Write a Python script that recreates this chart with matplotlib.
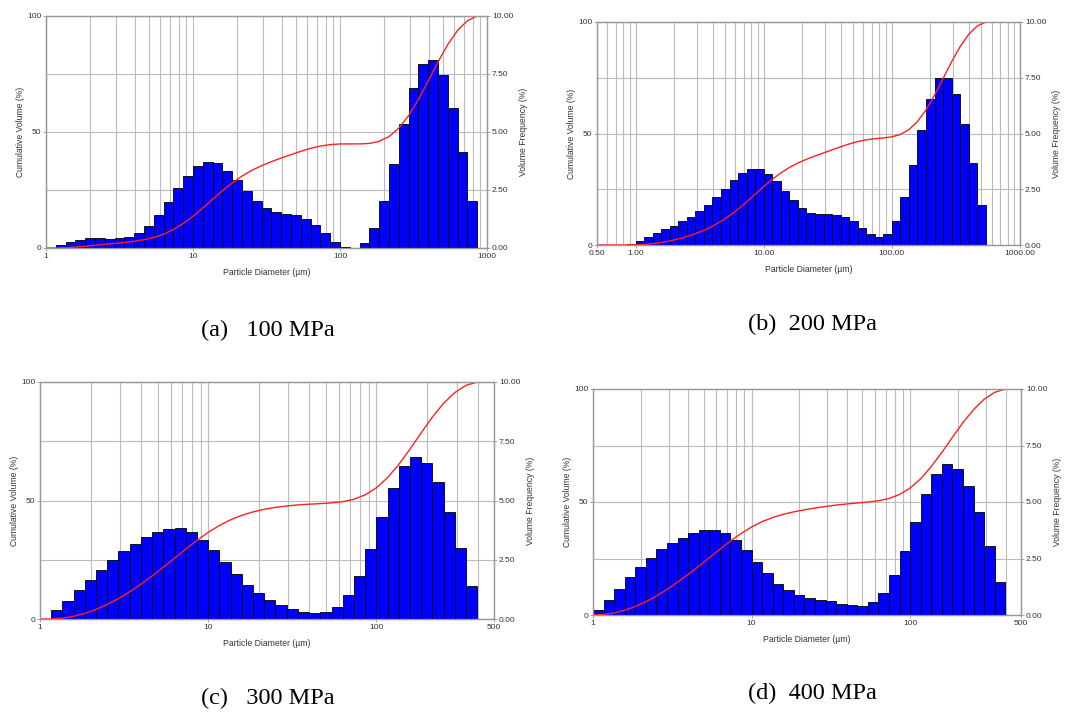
import numpy as np
import matplotlib.pyplot as plt
from matplotlib.ticker import LogLocator, NullFormatter

plt.rcParams['font.family'] = 'Liberation Sans'

# particle size classes, 15 per decade (class k spans 10^(k/15) .. 10^((k+1)/15))
size_classes = 10 ** (np.arange(-1, 46) / 15)

# volume frequency (%), first class index k0
freq_100 = [0.11, 0.27, 0.36, 0.42, 0.42, 0.39, 0.42, 0.47, 0.66, 0.96,
            1.41, 1.97, 2.57, 3.11, 3.54, 3.72, 3.67, 3.34, 2.93, 2.44,
            2.01, 1.71, 1.55, 1.46, 1.41, 1.26, 0.98, 0.63, 0.27, 0.03,
            0.00, 0.20, 0.88, 2.04, 3.62, 5.34, 6.89, 7.92, 8.11, 7.47,
            6.05, 4.13, 2.01]
k0_100 = 1

freq_200 = [0.04, 0.19, 0.36, 0.52, 0.70, 0.87, 1.08, 1.27, 1.52, 1.81,
            2.17, 2.53, 2.91, 3.24, 3.41, 3.41, 3.20, 2.86, 2.44, 2.00,
            1.66, 1.45, 1.38, 1.38, 1.35, 1.26, 1.08, 0.78, 0.49, 0.36,
            0.48, 1.08, 2.14, 3.60, 5.17, 6.56, 7.47, 7.47, 6.77, 5.44,
            3.69, 1.78]
k0_200 = -1

freq_300 = [0.37, 0.77, 1.21, 1.65, 2.08, 2.48, 2.86, 3.18, 3.46, 3.66,
            3.78, 3.83, 3.66, 3.35, 2.90, 2.39, 1.88, 1.43, 1.08, 0.82,
            0.58, 0.44, 0.31, 0.24, 0.30, 0.52, 1.01, 1.83, 2.97, 4.29,
            5.53, 6.46, 6.84, 6.60, 5.78, 4.50, 3.00, 1.39]
k0_300 = 1

freq_400 = [0.24, 0.66, 1.17, 1.67, 2.11, 2.53, 2.90, 3.18, 3.41, 3.62,
            3.74, 3.74, 3.62, 3.31, 2.88, 2.36, 1.85, 1.39, 1.09, 0.90,
            0.77, 0.68, 0.61, 0.50, 0.44, 0.41, 0.56, 0.99, 1.76, 2.85,
            4.12, 5.35, 6.25, 6.68, 6.47, 5.72, 4.55, 3.06, 1.46]
k0_400 = 0

ticks_a = [1, 10, 100, 1000]
labels_a = ['1', '10', '100', '1000']
ticks_b = [0.5, 1, 10, 100, 1000]
labels_b = ['0.50', '1.00', '10.00', '100.00', '1000.00']
ticks_cd = [1, 10, 100, 500]
labels_cd = ['1', '10', '100', '500']
captions = ['(a)   100 MPa', '(b)  200 MPa', '(c)   300 MPa', '(d)  400 MPa']

W, H = 1067, 713
fig = plt.figure(figsize=(W / 100, H / 100), dpi=100)


def px_rect(left, top, right, bottom):
    return [left / W, 1 - bottom / H, (right - left) / W, (bottom - top) / H]


def draw(rect, freq, k0, xlim, xticks, xlabels):
    ax = fig.add_axes(rect)
    ax2 = ax.twinx()
    ax.set_xscale('log')
    edges = size_classes[k0 + 1:k0 + len(freq) + 2]

    # bars on the twin (frequency) axis so they sit above the grid
    ax2.bar(edges[:-1], freq, width=np.diff(edges), align='edge',
            color='#0000ff', edgecolor='black', linewidth=0.6)

    # cumulative volume from the frequencies
    cum = np.concatenate([[0], np.cumsum(freq)])
    cum = cum / cum[-1] * 100
    ax2.plot(np.concatenate([[xlim[0]], edges]), np.concatenate([[0], cum]),
             color='#ff2020', lw=1.0, transform=ax.transData)

    ax.set_xlim(*xlim)
    ax.set_ylim(0, 100)
    ax2.set_ylim(0, 10)

    ax.set_xticks(xticks)
    ax.set_xticklabels(xlabels)
    ax.xaxis.set_minor_locator(LogLocator(base=10, subs=np.arange(2, 10), numticks=20))
    ax.xaxis.set_minor_formatter(NullFormatter())
    ax.set_yticks([0, 50, 100])
    ax.set_yticks([25, 75], minor=True)
    ax2.set_yticks([0, 2.5, 5, 7.5, 10])
    ax2.set_yticklabels(['0.00', '2.50', '5.00', '7.50', '10.00'])

    ax.grid(True, which='both', color='#bcbcbc', lw=0.8)

    for a in (ax, ax2):
        for s in a.spines.values():
            s.set_color('#999999')
            s.set_linewidth(0.9)
        a.tick_params(which='major', labelsize=6, labelcolor='#333333',
                      color='#999999', length=2, width=0.6, pad=1.5)
        a.tick_params(which='minor', length=0)

    ax.set_xlabel('Particle Diameter (µm)', fontsize=6.2, color='#333333', labelpad=6)
    ax.set_ylabel('Cumulative Volume (%)', fontsize=6.2, color='#333333', labelpad=1)
    ax2.set_ylabel('Volume Frequency (%)', fontsize=6.2, color='#333333', labelpad=4)
    return ax


draw(px_rect(46, 16, 487, 248), freq_100, k0_100, (1, 1000), ticks_a, labels_a)
draw(px_rect(597, 22, 1020, 245), freq_200, k0_200, (0.5, 1000), ticks_b, labels_b)
draw(px_rect(40, 382, 494, 619), freq_300, k0_300, (1, 500), ticks_cd, labels_cd)
draw(px_rect(593, 389, 1021, 615), freq_400, k0_400, (1, 500), ticks_cd, labels_cd)

cap_pos = [(268, 330), (812, 324), (268, 698), (812, 693)]
for (cx, cy), text in zip(cap_pos, captions):
    fig.text(cx / W, 1 - cy / H, text, ha='center', va='center',
             fontsize=17.5, family='Liberation Serif', color='black')

fig.savefig('out.png', dpi=100)
